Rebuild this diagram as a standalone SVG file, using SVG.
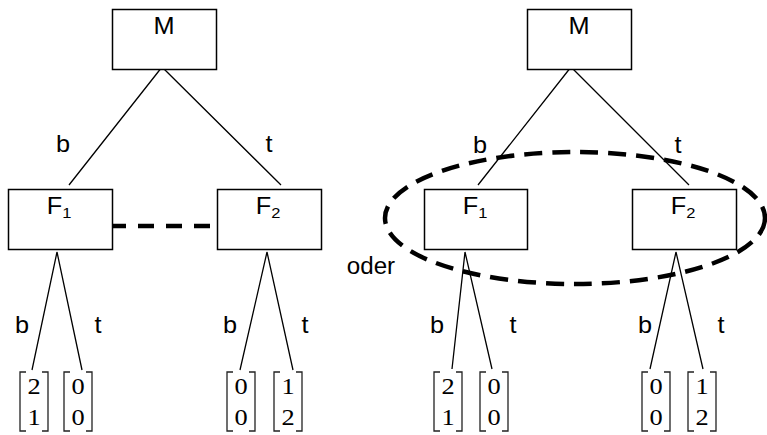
<svg xmlns="http://www.w3.org/2000/svg" width="767" height="435" viewBox="0 0 767 435">
  <style>
    .box { fill: #fff; stroke: #000; stroke-width: 1.5; }
    .edge { stroke: #000; stroke-width: 1.3; fill: none; }
    .lbl { font-family: "Liberation Sans", Arial, sans-serif; font-size: 23px; fill: #000; text-anchor: middle; }
    .sub { font-size: 15px; }
    .num { font-family: "Liberation Serif", "Times New Roman", serif; font-size: 24px; fill: #000; text-anchor: middle; }
    .brk { stroke: #222; stroke-width: 1.3; fill: none; }
    .info { stroke: #000; stroke-width: 4.5; fill: none; }
  </style>
  <defs>
    <!-- column vector brackets, 30 wide, origin at top-left -->
    <g id="vec">
      <path class="brk" d="M7,0 H1 V59 H7 M23,0 H29 V59 H23"/>
    </g>
  </defs>

  <rect width="767" height="435" fill="#fff"/>

  <!-- connectors -->
  <g id="connectors">
    <path class="edge" d="M162,67 L69,185 M162,67 L281,185"/>
    <path class="edge" d="M57,252 L32,370 M57,252 L82,370"/>
    <path class="edge" d="M267,252 L240,370 M267,252 L293,370"/>
    <path class="edge" d="M571,67 L478,185 M571,67 L689,185"/>
    <path class="edge" d="M465,252 L452,369 M465,252 L492,369"/>
    <path class="edge" d="M676,252 L650,369 M676,252 L703,369"/>
    <!-- information set (left: dashed link, right: dashed ellipse) -->
    <line class="info" x1="110" y1="226" x2="214" y2="226" stroke-dasharray="16 12"/>
    <ellipse class="info" cx="575" cy="218" rx="190" ry="66" stroke-dasharray="18 10"/>
  </g>

  <!-- edge labels -->
  <g id="edge-labels">
    <g transform="translate(63,152) scale(1.1,1)"><text class="lbl">b</text></g>
    <g transform="translate(269,152) scale(1.1,1)"><text class="lbl">t</text></g>
    <g transform="translate(480,153) scale(1.1,1)"><text class="lbl">b</text></g>
    <g transform="translate(678,153) scale(1.1,1)"><text class="lbl">t</text></g>
    <g transform="translate(22,333) scale(1.1,1)"><text class="lbl">b</text></g>
    <g transform="translate(98,333) scale(1.1,1)"><text class="lbl">t</text></g>
    <g transform="translate(230,333) scale(1.1,1)"><text class="lbl">b</text></g>
    <g transform="translate(305,333) scale(1.1,1)"><text class="lbl">t</text></g>
    <g transform="translate(437,333) scale(1.1,1)"><text class="lbl">b</text></g>
    <g transform="translate(513,333) scale(1.1,1)"><text class="lbl">t</text></g>
    <g transform="translate(645,333) scale(1.1,1)"><text class="lbl">b</text></g>
    <g transform="translate(721,333) scale(1.1,1)"><text class="lbl">t</text></g>
    <g transform="translate(371,274) scale(1.05,1)"><text class="lbl">oder</text></g>
  </g>

  <!-- left tree -->
  <g id="M-left">
    <rect class="box" x="112.5" y="9.5" width="104" height="60"/>
    <g transform="translate(164,34) scale(1.1,1)"><text class="lbl">M</text></g>
  </g>
  <g id="F1-left">
    <rect class="box" x="8.5" y="189.5" width="104" height="60"/>
    <g transform="translate(59,214) scale(1.1,1)"><text class="lbl">F<tspan class="sub" dy="4">1</tspan></text></g>
  </g>
  <g id="F2-left">
    <rect class="box" x="217.5" y="189.5" width="104" height="60"/>
    <g transform="translate(268,214) scale(1.1,1)"><text class="lbl">F<tspan class="sub" dy="4">2</tspan></text></g>
  </g>

  <!-- right tree -->
  <g id="M-right">
    <rect class="box" x="527.5" y="9.5" width="104" height="60"/>
    <g transform="translate(579,34) scale(1.1,1)"><text class="lbl">M</text></g>
  </g>
  <g id="F1-right">
    <rect class="box" x="424.5" y="189.5" width="103" height="60"/>
    <g transform="translate(475,214) scale(1.1,1)"><text class="lbl">F<tspan class="sub" dy="4">1</tspan></text></g>
  </g>
  <g id="F2-right">
    <rect class="box" x="632.5" y="189.5" width="104" height="60"/>
    <g transform="translate(683,214) scale(1.1,1)"><text class="lbl">F<tspan class="sub" dy="4">2</tspan></text></g>
  </g>

  <!-- payoff vectors -->
  <g id="payoff-L1">
    <use href="#vec" x="19" y="372"/>
    <g transform="translate(34,394) scale(1.1,1)"><text class="num">2</text></g>
    <g transform="translate(34,425) scale(1.1,1)"><text class="num">1</text></g>
  </g>
  <g id="payoff-L2">
    <use href="#vec" x="63" y="372"/>
    <g transform="translate(78,394) scale(1.1,1)"><text class="num">0</text></g>
    <g transform="translate(78,425) scale(1.1,1)"><text class="num">0</text></g>
  </g>
  <g id="payoff-L3">
    <use href="#vec" x="226" y="372"/>
    <g transform="translate(241,394) scale(1.1,1)"><text class="num">0</text></g>
    <g transform="translate(241,425) scale(1.1,1)"><text class="num">0</text></g>
  </g>
  <g id="payoff-L4">
    <use href="#vec" x="273" y="372"/>
    <g transform="translate(288,394) scale(1.1,1)"><text class="num">1</text></g>
    <g transform="translate(288,425) scale(1.1,1)"><text class="num">2</text></g>
  </g>
  <g id="payoff-R1">
    <use href="#vec" x="433" y="372"/>
    <g transform="translate(448,394) scale(1.1,1)"><text class="num">2</text></g>
    <g transform="translate(448,425) scale(1.1,1)"><text class="num">1</text></g>
  </g>
  <g id="payoff-R2">
    <use href="#vec" x="479" y="372"/>
    <g transform="translate(494,394) scale(1.1,1)"><text class="num">0</text></g>
    <g transform="translate(494,425) scale(1.1,1)"><text class="num">0</text></g>
  </g>
  <g id="payoff-R3">
    <use href="#vec" x="641" y="372"/>
    <g transform="translate(656,394) scale(1.1,1)"><text class="num">0</text></g>
    <g transform="translate(656,425) scale(1.1,1)"><text class="num">0</text></g>
  </g>
  <g id="payoff-R4">
    <use href="#vec" x="687" y="372"/>
    <g transform="translate(702,394) scale(1.1,1)"><text class="num">1</text></g>
    <g transform="translate(702,425) scale(1.1,1)"><text class="num">2</text></g>
  </g>
</svg>
